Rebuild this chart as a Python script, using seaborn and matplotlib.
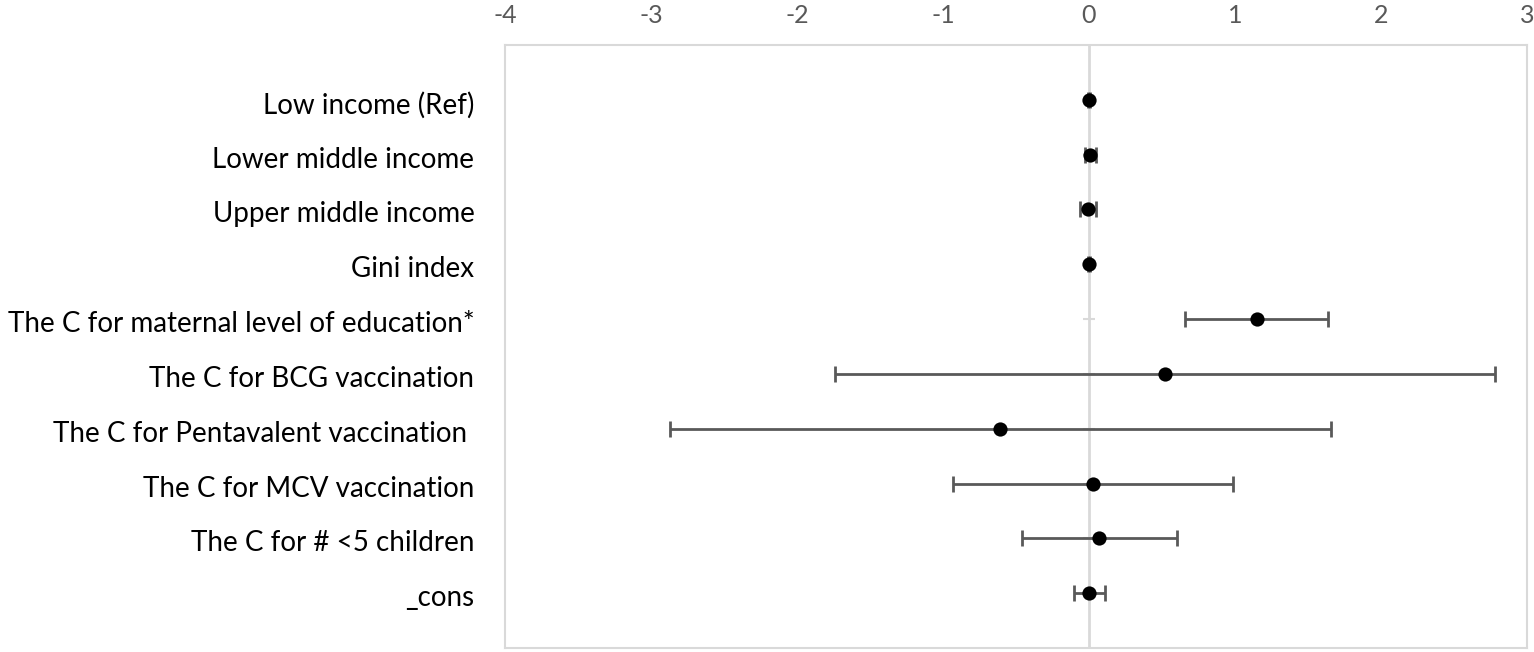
import matplotlib
matplotlib.use('Agg')
import matplotlib.pyplot as plt
import matplotlib.transforms as mtransforms
import seaborn as sns
import numpy as np
import pandas as pd

# coefficients and 95% CI
labels = ['Low income (Ref)', 'Lower middle income', 'Upper middle income', 'Gini index',
          'The C for maternal level of education*', 'The C for BCG vaccination',
          'The C for Pentavalent vaccination ', 'The C for MCV vaccination',
          'The C for # <5 children', '_cons']
coef = [0.0, 0.01, -0.01, 0.0, 1.15, 0.52, -0.61, 0.025, 0.07, 0.0]
lower = [-0.01, -0.03, -0.06, -0.01, 0.66, -1.74, -2.87, -0.93, -0.46, -0.105]
upper = [0.01, 0.045, 0.045, 0.01, 1.64, 2.78, 1.66, 0.99, 0.60, 0.11]
xticks = [-4, -3, -2, -1, 0, 1, 2, 3]

df = pd.DataFrame({'label': labels, 'coef': coef, 'lower': lower, 'upper': upper})
df['pos'] = np.arange(len(df))[::-1] + 1

sns.set_style('white')
plt.rcParams['font.family'] = ['Lato', 'DejaVu Sans']

fig = plt.figure(figsize=(15.34, 6.52), dpi=100)
ax = fig.add_axes([0.3292, 0.006, 0.6662, 0.925])

# zero line (vertical axis)
ax.axvline(0, color='#d9d9d9', lw=2, zorder=1)
ax.plot(np.full(len(df), 0), df['pos'], ls='none', marker='_', ms=8, mew=1.5,
        color='#d9d9d9', zorder=1)

ax.errorbar(df['coef'], df['pos'],
            xerr=[df['coef'] - df['lower'], df['upper'] - df['coef']],
            fmt='none', ecolor='#595959', elinewidth=2, capsize=6, capthick=2, zorder=2)
sns.scatterplot(data=df, x='coef', y='pos', color='black', s=105, edgecolor='black',
                linewidth=0, zorder=3, ax=ax)

ax.set_xlim(-4, 3)
ax.set_ylim(0, 11)
ax.set_xticks(xticks)
ax.set_xticklabels([str(t) for t in xticks])
ax.xaxis.tick_top()
ax.tick_params(axis='x', length=0, pad=13, labelsize=18, labelcolor='#595959')
ax.set_yticks(df['pos'])
ax.set_yticklabels(df['label'], va='center')
ax.tick_params(axis='y', length=0, pad=22, labelsize=20, labelcolor='black')
# labels sit a little lower than the markers in the original
shift = mtransforms.ScaledTranslation(0, -5 / 100, fig.dpi_scale_trans)
for t in ax.get_yticklabels():
    t.set_transform(t.get_transform() + shift)
ax.set_xlabel('')
ax.set_ylabel('')
for s in ax.spines.values():
    s.set_color('#d9d9d9')
    s.set_linewidth(1.5)

fig.savefig('out.png', dpi=100)
